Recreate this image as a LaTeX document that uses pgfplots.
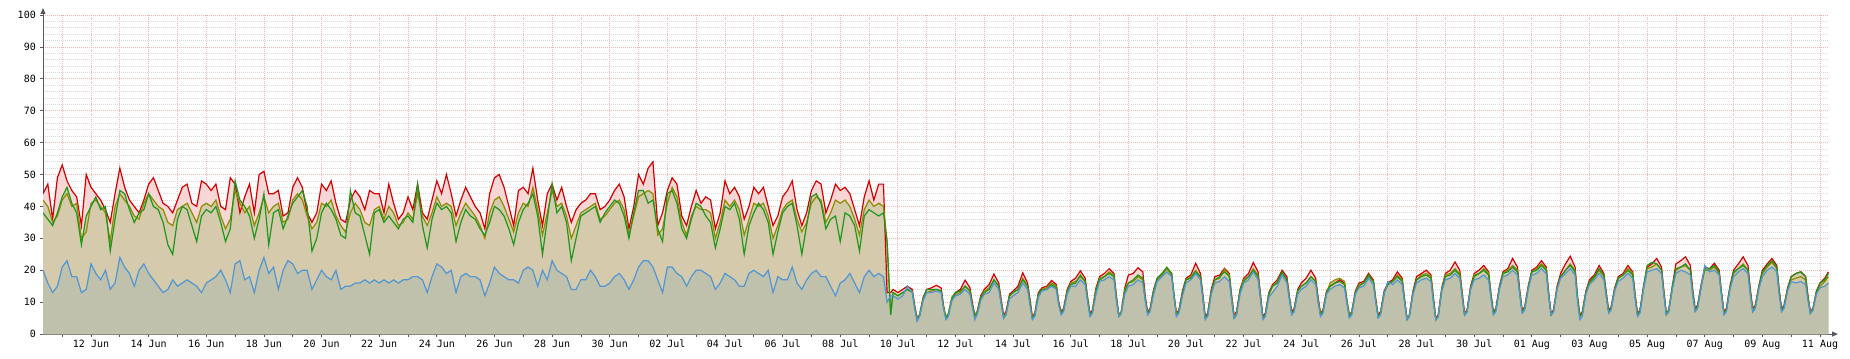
\documentclass[border=0pt]{standalone}
\usepackage{fontspec}
\setmainfont{DejaVu Sans Mono}
\usepackage{pgfplots}
\pgfplotsset{compat=1.18}
\usepackage{pgfplotstable}
\usetikzlibrary{arrows.meta}

\definecolor{cred}{HTML}{D40000}
\definecolor{colive}{HTML}{8C8C00}
\definecolor{cgreen}{HTML}{1E961E}
\definecolor{cblue}{HTML}{4F96D2}
\definecolor{fpink}{HTML}{F7D6D6}
\definecolor{ftan}{HTML}{D6CAAC}
\definecolor{fgrey}{HTML}{C0C1AC}
\definecolor{gridmaj}{HTML}{F2B4B4}
\definecolor{gridmin}{HTML}{DADADA}

\pgfplotstableread{
h r o g b
-40 44 42 38 20
-36 47 40 36 16
-32 36 35 34 13
-28 49 37 38 15
-24 53 42 43 21
-20 48 44 46 23
-16 45 40 41 18
-12 43 41 38 18
-8 34 30 28 13
-4 50 32 37 14
0 46 41 40 22
4 44 42 43 19
8 42 40 39 17
12 39 38 40 20
16 35 29 26 14
20 44 40 36 16
24 52 44 45 24
28 46 42 44 21
32 42 40 39 19
36 40 37 35 15
40 38 36 38 20
44 42 41 39 22
48 47 44 44 19
52 49 42 40 17
56 45 40 39 15
60 41 39 35 13
64 40 35 28 14
68 38 34 25 17
72 42 39 36 15
76 46 40 40 16
80 47 41 39 17
84 41 38 34 16
88 40 35 29 15
92 48 40 37 13
96 47 41 39 16
100 45 40 38 17
104 47 42 40 18
108 40 37 35 20
112 39 33 29 17
116 49 36 33 13
120 47 45 48 22
124 38 41 42 23
128 43 38 40 17
132 47 40 37 18
136 38 34 30 13
140 50 38 36 20
144 51 43 44 24
148 44 38 28 19
152 44 40 38 21
156 45 41 39 14
160 37 35 33 20
164 38 36 37 23
168 46 42 41 22
172 49 44 43 19
176 46 42 45 20
180 38 37 40 20
184 35 33 26 14
188 38 35 30 17
192 47 41 38 20
196 45 40 41 18
200 48 42 39 17
204 41 37 36 20
208 36 34 31 14
212 35 32 30 15
216 42 38 45 15
220 45 41 38 16
224 43 39 37 16
228 39 35 31 17
232 45 34 25 16
236 44 39 38 17
240 44 40 39 16
244 38 36 35 17
248 47 40 37 16
252 41 38 35 17
256 36 34 33 16
260 38 35 36 17
264 43 38 37 17
268 39 36 35 18
272 47 44 47 18
276 38 37 34 17
280 36 34 27 13
284 42 38 36 18
288 48 43 41 22
292 44 40 39 21
296 50 41 40 19
300 44 40 38 20
304 37 34 29 13
308 42 38 35 18
312 46 41 39 19
316 43 39 37 18
320 40 37 36 18
324 38 34 33 17
328 33 30 31 12
332 44 38 35 16
336 49 42 40 21
340 50 43 39 19
344 46 40 37 18
348 40 36 33 17
352 34 32 28 17
356 45 38 35 16
360 46 41 39 20
364 44 40 41 21
368 52 46 44 20
372 42 39 37 15
376 34 31 25 20
380 44 38 36 17
384 47 45 47 23
388 42 40 38 20
392 46 41 40 19
396 40 37 35 18
400 35 30 23 14
404 39 34 30 14
408 41 38 37 17
412 42 39 38 17
416 44 40 39 20
420 44 41 40 18
424 39 36 35 15
428 40 37 38 15
432 42 39 40 16
436 45 41 42 18
440 47 42 41 19
444 43 39 37 17
448 33 31 30 14
452 40 37 38 17
456 50 43 45 21
460 47 44 45 23
464 52 45 41 23
468 54 44 42 21
472 34 31 33 17
476 38 33 29 13
480 45 41 44 21
484 49 46 45 21
488 47 43 41 19
492 37 35 33 18
496 34 31 30 15
500 40 37 36 18
504 45 40 41 20
508 41 39 40 20
512 43 39 37 19
516 42 38 35 18
520 33 30 27 14
524 38 35 33 16
528 48 42 40 19
532 44 40 39 18
536 46 42 41 17
540 43 39 36 15
544 36 31 25 15
548 40 36 34 19
552 46 41 38 20
556 44 40 41 19
560 46 41 39 18
564 40 37 35 20
568 34 30 25 13
572 37 34 32 18
576 43 39 38 17
580 45 41 40 17
584 48 42 41 21
588 39 36 34 16
592 34 32 25 14
596 38 35 34 17
600 45 41 43 19
604 48 43 44 20
608 47 42 41 18
612 38 35 33 18
616 42 38 36 15
620 47 42 37 12
624 45 41 29 16
628 46 42 38 17
632 44 40 37 19
636 39 36 34 16
640 34 31 26 13
644 43 39 37 18
648 48 42 39 20
652 42 40 38 18
656 47 41 37 19
660 47 40 38 18
663 13 29 29 10
666 13 6 6 12
668 14 13 13 12
672 13 12 12 11
676 14 13 13 12
680 15 14 14 15
684 14 13.5 13 13
686 9 8.5 8.5 8
688 5 5 4.5 4
690 6 6 5.5 5.5
693 11.5 11 11 10.5
696 14 13 14 13
700 14.5 13.5 14 13
704 15.3 14 14 13.5
708 14.5 13.5 13.5 13
710 9 8.5 8.5 8
712 5 5.5 5 4.5
714 6 6.5 6 5.5
717 11.5 11.5 11 10.5
720 13 12.5 13 12
724 14 13 13.5 12.5
728 16.9 15 15 14
732 14.5 13.5 13.5 12.5
734 10 9 9 8.5
736 6 6 5.5 4.5
738 7 7 6.5 6
741 12 11.5 11.5 10.5
744 14 13.5 13 12.5
748 15.5 14.5 14 13
752 18.8 17 17 16
756 16 15 15 14
758 11 10 10 9.5
760 6 5.5 5 5
762 7 6.5 6 6
765 12.5 12 12 11
768 13.5 13 13 12
772 15 14 14 13
776 19.2 17.5 17 16
780 16 15 15 14
782 11 10 10 9
784 5.5 5 5 4.5
786 6.5 6 6 5.5
789 13 12.5 12.5 11.5
792 14.5 14 14 13.5
796 15 14.5 14 14
800 16.8 16 15.5 15
804 15.5 15 14.5 14
806 10 9.5 9.5 9
808 7 6.5 6.5 6
810 8 7.5 7.5 7
813 14 13.5 13.5 12.5
816 16.5 16 15.5 15
820 17.5 16.5 16 15
824 19.8 18 18.5 17
828 17.5 16.5 16.5 15.5
830 11.5 11 11 10
832 6.5 6 6 5.5
834 7.5 7 7 6.5
837 14.5 14 13.5 12.5
840 18 17.5 17 16.5
844 19 18 18 17
848 20.5 19.5 19 18
852 19 18.5 18 17
854 12 11.5 11 10.5
856 6 6 5.5 5.5
858 7 7 6.5 6.5
861 14.5 14 13.5 12.5
864 18.5 16 16 15
868 19 16.5 17 15.5
872 20.8 18 18.5 17
876 19.5 17 17.5 16
878 12 11 11 10.5
880 7 6.5 6.5 6
882 8 7.5 7.5 7
885 14 13.5 13.5 12.5
888 17.5 17 17.5 16.5
892 19 18.5 19 18
896 20.5 20.5 21 19.5
900 19 18.5 19 18
902 12 12 12.5 11.5
904 6.5 6 6 5.5
906 7.5 7 7 6.5
909 13.5 12.5 13 12
912 17.5 17 17 16
916 18.5 18 17.5 17
920 22.2 20 19.5 19
924 19 18 18 17
926 12.5 11.5 11.5 11
928 5.5 5 5 4.5
930 6.5 6 6 5.5
933 14 13.5 13 12.5
936 18 17 17 16
940 18.5 17.5 18 16.5
944 20.6 20.3 19.5 18
948 19 18.5 18 16.5
950 12 11.5 11 10.5
952 6 5.5 5 5
954 7 6.5 6 6
957 14 13.5 13.5 12.5
960 17.5 17 16.5 16
964 19 18 18 17
968 22.4 20.5 20 19.5
972 19.5 18.5 18 17
974 12.5 11.5 11.5 11
976 5.5 5 5 4.5
978 6.5 6 6 5.5
981 13 12.5 12.5 11.5
984 15.5 15 15 13
988 17 16.5 16 15
992 20 19 19.5 18.5
996 18 17 17 16
998 12 11.5 11.5 11
1000 7 6.5 6.5 6
1002 8 7.5 7.5 7
1005 14 13.5 13.5 12.5
1008 16 15 15 14
1012 17.5 16 16 15
1016 20 18 18 17
1020 17.5 16.5 16.5 15.5
1022 11.5 10.5 10.5 10
1024 6.5 6 6 5.5
1026 7.5 7 7 6.5
1029 13.5 13 13 12.5
1032 15 16 15 14
1036 16 17 16 15
1040 17 17.5 16.5 15.5
1044 16 16.5 15.5 14.5
1046 10.5 10.5 10 9.5
1048 6 6 5.5 5
1050 7 7 6.5 6
1053 13.5 13 13 12.5
1056 16 15.5 15 14.5
1060 16.5 16 16 15
1064 19 18 18.5 17.5
1068 17 16.5 16.5 15.5
1070 11 10.5 10.5 10
1072 6 5.5 5.5 5
1074 7 6.5 6.5 6
1077 13.5 13 13 12.5
1080 16 15.5 15.5 16.5
1084 17 16.5 16.5 15.5
1088 19.5 18.5 18 17
1092 17.5 17 16.5 15.5
1094 11 10.5 10.5 10
1096 5 5 4.5 4.5
1098 6 6 5.5 5.5
1101 13.5 13 13 12.5
1104 18 17 17 16
1108 19 18.5 18 17
1112 20 19 18.5 17.5
1116 18.5 18 17.5 16.5
1118 11.5 11 11 10
1120 5 4.5 4.5 4.5
1122 6 5.5 5.5 5.5
1125 14.5 14 14 13.5
1128 19 18.5 18 17
1132 20 19 18.5 17.5
1136 22.6 20.5 20 19
1140 20 19 18.5 17.5
1142 13 12 12 11.5
1144 6.5 6 6 6
1146 7.5 7 7 7
1149 15 14.5 14.5 14
1152 19 18.5 18 17
1156 20 19 19 17.5
1160 21.5 20.5 20 18.5
1164 19.5 19 18.5 17
1166 12.5 12 12 11
1168 7 6.5 6.5 6
1170 8 7.5 7.5 7
1173 15 14.5 14.5 14
1176 19.5 19 19 18
1180 20.5 20 19.5 18.5
1184 23.7 21.5 21 20
1188 21 20 19.5 18.5
1190 13.5 12.5 12.5 12
1192 7.5 7 7 6.5
1194 8.5 8 8 7.5
1197 15 14.5 14.5 14
1200 20 19.5 19.5 18.5
1204 21 20.5 20 19
1208 23 22 21.5 20.5
1212 21 20.5 20 19
1214 13 12.5 12.5 12
1216 6.5 6 6 6
1218 7.5 7 7 7
1221 15 14.5 14.5 14
1224 19 18 18 17.5
1228 22 20 20 19
1232 24.4 22 21.5 20.5
1236 21 20 19.5 18.5
1238 12 11.5 11.5 10.5
1240 6 5.5 5.5 4.5
1242 7 6.5 6.5 5.5
1245 13.5 13 13 12.5
1248 17 16 16.5 15.5
1252 18.5 17.5 18 17
1256 21.5 20 20.5 19
1260 19 18 18.5 17
1262 13 12 12.5 11.5
1264 7.5 7 7 6.5
1266 8.5 8 8 7.5
1269 14.5 14 14 13.5
1272 18 17.5 17.5 16.5
1276 19 18.5 18.5 17.5
1280 21.5 20.5 20 19
1284 19.5 19 18.5 17.5
1286 12.5 12 12 11
1288 6.5 6 6 5.5
1290 7.5 7 7 6.5
1293 15 14.5 14.5 14
1296 21 20.5 21.5 19.5
1300 22 21 22.5 20
1304 23.7 22 22 20.5
1308 21 20 20 19
1310 13.5 12.5 13 12
1312 6.5 6 6.5 6
1314 7.5 7 7.5 7
1317 15 14.5 15 14
1320 22 20 20.5 19
1324 23 21 21 20
1328 24.2 21.5 22 19.5
1332 21.5 20 20 18.5
1334 14 13 13 12
1336 8 7.5 7.5 7
1338 9 8.5 8.5 8
1341 15.5 15 15 14.5
1344 21 20 20.5 21.5
1348 20.5 20 20.5 19.5
1352 22.2 21 21.5 20
1356 20 19 19.5 18.5
1358 13 12.5 12.5 12
1360 7 6.5 6.5 6
1362 8 7.5 7.5 7
1365 15 14.5 14.5 14
1368 20 19 19.5 18
1372 22 20.5 20.5 19.5
1376 24.2 22 21.5 20.5
1380 21.5 20 20 19
1382 14 13 13 12
1384 8 7.5 7 7
1386 9 8.5 8 8
1389 15 14.5 14.5 14
1392 20 19 19.5 18
1396 22 21 21.5 20
1400 23.7 22.5 23 21
1404 21.5 20.5 21 19.5
1406 14 13 13.5 12.5
1408 8 7.5 7.5 7
1410 9 8.5 8.5 8
1413 14.5 14 14 13.5
1416 18 17 18 16.5
1420 19 17.5 19 16
1424 19.5 18 19.5 16.5
1428 18 17 18 15.5
1430 12 11 11.5 10.5
1432 7 6.5 6.5 6.5
1434 8 7.5 7.5 7.5
1437 13.5 13 13 12.5
1440 16 15 16 14.5
1444 17.5 16.5 17 15
1447 19.5 18 19 16
}\data

\begin{document}
\begin{tikzpicture}
\begin{axis}[
  scale only axis,
  width=1785.6pt, height=319pt,
  xmin=-40, xmax=1447.5, ymin=0, ymax=100,
  axis lines=left,
  axis line style={draw=black!65, line width=1pt},
  x axis line style={-{Triangle[length=6pt,width=5pt]}, shorten >=-9pt},
  y axis line style={-{Triangle[length=6pt,width=5pt]}, shorten >=-7pt},
  xtick={-24,0,...,1440},
  xticklabels={{},12 Jun,{},14 Jun,{},16 Jun,{},18 Jun,{},20 Jun,{},22 Jun,{},24 Jun,{},26 Jun,{},28 Jun,{},30 Jun,{},02 Jul,{},04 Jul,{},06 Jul,{},08 Jul,{},10 Jul,{},12 Jul,{},14 Jul,{},16 Jul,{},18 Jul,{},20 Jul,{},22 Jul,{},24 Jul,{},26 Jul,{},28 Jul,{},30 Jul,{},01 Aug,{},03 Aug,{},05 Aug,{},07 Aug,{},09 Aug,{},11 Aug},
  minor x tick num=1,
  ytick={0,10,...,100},
  minor y tick num=4,
  grid=both,
  major grid style={draw=gridmaj, line width=0.8pt, dash pattern=on 1pt off 1pt},
  minor grid style={draw=gridmin, line width=0.8pt, dash pattern=on 1pt off 1pt},
  tick align=outside,
  major tick length=3pt, minor tick length=0pt,
  tick style={draw=black!65, line width=0.8pt},
  /pgf/number format/assume math mode=true,
  tick label style={font=\fontsize{10}{12}\selectfont, text=black},
  yticklabel style={anchor=east, inner sep=0pt, xshift=-4pt},
  xticklabel style={anchor=north, inner sep=0pt, yshift=-3pt},
]
\addplot[fill=fpink, draw=none] table[x=h,y=r]{\data} \closedcycle;
\addplot[fill=ftan, draw=none] table[x=h,y=o]{\data} \closedcycle;
\addplot[fill=ftan, draw=none] table[x=h,y=g]{\data} \closedcycle;
\addplot[fill=fgrey, draw=none] table[x=h,y=b]{\data} \closedcycle;
\addplot[draw=cred, line width=1.2pt, mark=none] table[x=h,y=r]{\data};
\addplot[draw=colive, line width=1.2pt, mark=none] table[x=h,y=o]{\data};
\addplot[draw=cgreen, line width=1.2pt, mark=none] table[x=h,y=g]{\data};
\addplot[draw=cblue, line width=1.2pt, mark=none] table[x=h,y=b]{\data};
\end{axis}
\path (current axis.south west) ++(-43pt,-24pt) rectangle ([xshift=21pt,yshift=15pt]current axis.north east);
\end{tikzpicture}
\end{document}
